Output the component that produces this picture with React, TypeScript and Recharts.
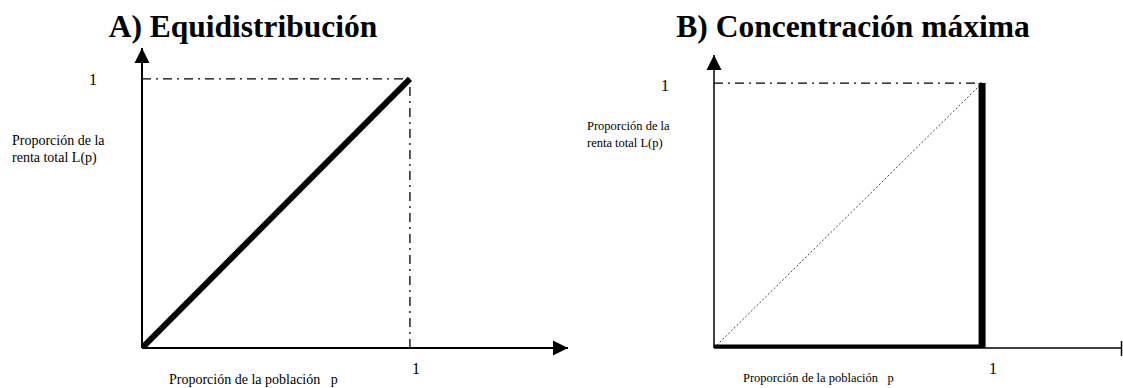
import React from "react";
import { LineChart, Line, XAxis, YAxis, ReferenceLine, ReferenceDot } from "recharts";

// Curva de Lorenz: p = proporción de población, L = proporción de renta
const pEqual = [0, 1];
const lEqual = [0, 1];
const pConc = [0, 1, 1];
const lConc = [0, 0, 1];
const tickValues = [1];
const titleA = "A) Equidistribución";
const titleB = "B) Concentración máxima";
const yLabelLines = ["Proporción de la", "renta total L(p)"];
const xLabelText = "Proporción de la población\u00a0\u00a0\u00a0p";

const toRows = (ps: number[], ls: number[]) => ps.map((p, i) => ({ p, L: ls[i] }));

const FONT = '"Liberation Serif", "Times New Roman", serif';
const DASH_DOT = "9 5 2 5";

const ArrowRight = (props: any) => {
  const { cx, cy } = props;
  return <polygon points={`${cx},${cy} ${cx - 15},${cy - 7.5} ${cx - 15},${cy + 7.5}`} fill="#000" />;
};

const ArrowUp = (props: any) => {
  const { cx, cy } = props;
  return <polygon points={`${cx},${cy} ${cx - 7.5},${cy + 15} ${cx + 7.5},${cy + 15}`} fill="#000" />;
};

const EndTick = (props: any) => {
  const { cx, cy } = props;
  return <line x1={cx - 0.5} x2={cx - 0.5} y1={cy - 7} y2={cy + 8} stroke="#000" strokeWidth={1.5} />;
};

const makeTick = (dx: number, dy: number) => (props: any) => (
  <text x={props.x + dx} y={props.y + dy} textAnchor="middle" fontFamily={FONT} fontSize={16} fill="#000">
    {props.payload.value}
  </text>
);

const makeYLabel = (x: number, y: number, size: number, gap: number) => () => (
  <text fontFamily={FONT} fontSize={size} fill="#000">
    {yLabelLines.map((line, i) => (
      <tspan key={i} x={x} y={y + i * gap}>
        {line}
      </tspan>
    ))}
  </text>
);

const makeXLabel = (x: number, y: number, size: number) => () => (
  <text x={x} y={y} fontFamily={FONT} fontSize={size} fill="#000">
    {xLabelText}
  </text>
);

const titleStyle = (center: number): React.CSSProperties => ({
  position: "absolute",
  left: center - 250,
  width: 500,
  top: 11,
  textAlign: "center",
  fontFamily: FONT,
  fontWeight: "bold",
  fontSize: 31.5,
  lineHeight: "31px",
  color: "#000",
});

export default function App() {
  const equalRows = toRows(pEqual, lEqual);
  const concRows = toRows(pConc, lConc);
  const xMaxA = 1.59;
  const yMaxA = 1.115;
  const xMaxB = 1.522;
  const yMaxB = 1.106;

  return (
    <div style={{ position: "absolute", left: 0, top: 0, width: 1123, height: 388, background: "#fff", overflow: "hidden" }}>
      <div style={titleStyle(243)}>{titleA}</div>
      <div style={titleStyle(853)}>{titleB}</div>

      <div style={{ position: "absolute", left: 0, top: 0 }}>
        <LineChart width={600} height={388} margin={{ top: 48, right: 32, bottom: 0, left: 0 }}>
          <XAxis
            type="number"
            dataKey="p"
            domain={[0, xMaxA]}
            allowDataOverflow
            ticks={tickValues}
            tickLine={false}
            tickSize={0}
            height={40}
            axisLine={{ stroke: "#000", strokeWidth: 2 }}
            tick={makeTick(6, 24)}
            label={{ content: makeXLabel(169, 384, 14) }}
          />
          <YAxis
            type="number"
            dataKey="L"
            domain={[0, yMaxA]}
            allowDataOverflow
            ticks={tickValues}
            tickLine={false}
            tickSize={0}
            width={142}
            axisLine={{ stroke: "#000", strokeWidth: 2 }}
            tick={makeTick(-47, 6)}
            label={{ content: makeYLabel(12, 145, 14, 17) }}
          />
          <ReferenceLine segment={[{ x: 0, y: 1 }, { x: 1, y: 1 }]} stroke="#000" strokeWidth={1.3} strokeDasharray={DASH_DOT} />
          <ReferenceLine segment={[{ x: 1, y: 0 }, { x: 1, y: 1 }]} stroke="#000" strokeWidth={1.3} strokeDasharray={DASH_DOT} />
          <Line data={equalRows} dataKey="L" stroke="#000" strokeWidth={6} dot={false} isAnimationActive={false} />
          <ReferenceDot x={xMaxA} y={0} r={0} shape={ArrowRight} ifOverflow="visible" />
          <ReferenceDot x={0} y={yMaxA} r={0} shape={ArrowUp} ifOverflow="visible" />
        </LineChart>
      </div>

      <div style={{ position: "absolute", left: 560, top: 0 }}>
        <LineChart width={563} height={388} margin={{ top: 55, right: 1, bottom: 0, left: 0 }}>
          <XAxis
            type="number"
            dataKey="p"
            domain={[0, xMaxB]}
            allowDataOverflow
            ticks={tickValues}
            tickLine={false}
            tickSize={0}
            height={40}
            axisLine={{ stroke: "#000", strokeWidth: 1.5 }}
            tick={makeTick(11, 24)}
            label={{ content: makeXLabel(183, 382, 12.5) }}
          />
          <YAxis
            type="number"
            dataKey="L"
            domain={[0, yMaxB]}
            allowDataOverflow
            ticks={tickValues}
            tickLine={false}
            tickSize={0}
            width={154}
            axisLine={{ stroke: "#000", strokeWidth: 1.5 }}
            tick={makeTick(-47, 8)}
            label={{ content: makeYLabel(27, 130, 12.5, 17) }}
          />
          <ReferenceLine segment={[{ x: 0, y: 1 }, { x: 1, y: 1 }]} stroke="#000" strokeWidth={1.3} strokeDasharray={DASH_DOT} />
          <Line data={equalRows} dataKey="L" stroke="#444" strokeWidth={1} strokeDasharray="2 2" dot={false} isAnimationActive={false} />
          <Line
            data={concRows}
            dataKey="L"
            stroke="#000"
            strokeWidth={7}
            strokeLinejoin="miter"
            dot={false}
            isAnimationActive={false}
          />
          <ReferenceDot x={xMaxB} y={0} r={0} shape={EndTick} ifOverflow="visible" />
          <ReferenceDot x={0} y={yMaxB} r={0} shape={ArrowUp} ifOverflow="visible" />
        </LineChart>
      </div>
    </div>
  );
}
